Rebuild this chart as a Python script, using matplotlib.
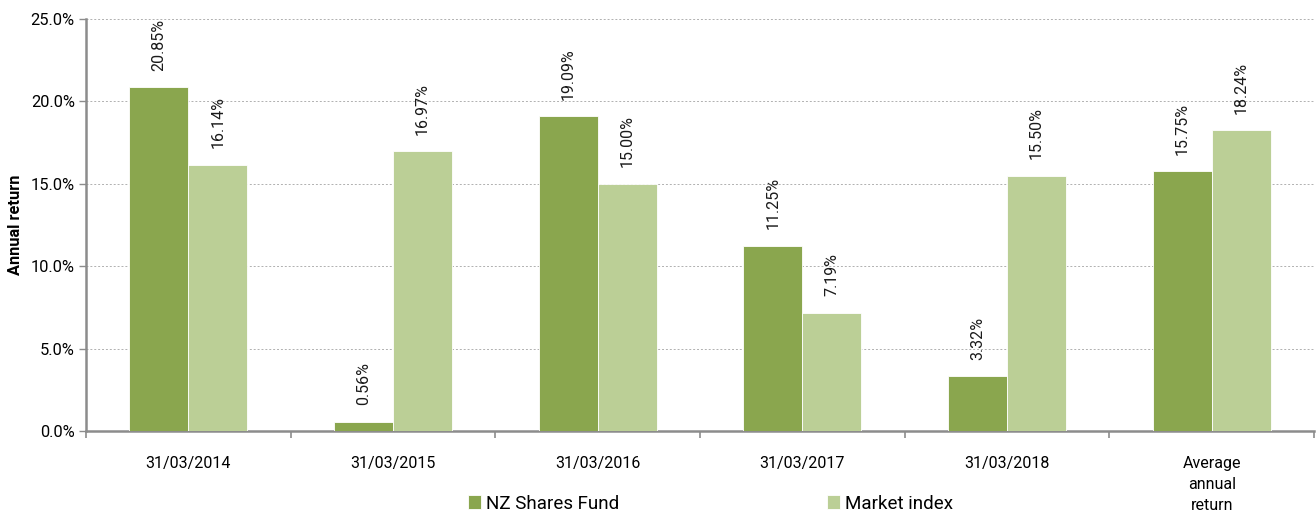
import matplotlib.pyplot as plt
import numpy as np
from matplotlib.ticker import FuncFormatter, FixedLocator

plt.rcParams['font.family'] = ['Roboto', 'DejaVu Sans']

# Data
categories = ['31/03/2014', '31/03/2015', '31/03/2016', '31/03/2017', '31/03/2018',
              'Average\nannual\nreturn']
fund = [20.85, 0.56, 19.09, 11.25, 3.32, 15.75]
market = [16.14, 16.97, 15.00, 7.19, 15.50, 18.24]

dark_green = '#8aa64e'
light_green = '#bbcf96'
axis_grey = '#8c8c8c'

fig = plt.figure(figsize=(13.16, 5.14), dpi=100)
ax = fig.add_axes([0.0653, 0.1615, 0.9332, 0.8015])

x = np.arange(len(categories))
w = 0.288
b1 = ax.bar(x - w / 2, fund, w, color=dark_green, edgecolor='white', linewidth=0.6,
            label='NZ Shares Fund', zorder=3)
b2 = ax.bar(x + w / 2, market, w, color=light_green, edgecolor='white', linewidth=0.6,
            label='Market index', zorder=3)

# value labels above bars, rotated
for bars, vals in ((b1, fund), (b2, market)):
    for rect, v in zip(bars, vals):
        ax.annotate(f'{v:.2f}%', (rect.get_x() + rect.get_width() / 2, rect.get_height()),
                    xytext=(0, 12), textcoords='offset points', rotation=90,
                    ha='center', va='bottom', fontsize=11.5, color='#1a1a1a')

ax.set_xlim(-0.5, len(categories) - 0.5)
ax.set_ylim(0, 25)
ax.set_yticks(np.arange(0, 26, 5))
ax.yaxis.set_major_formatter(FuncFormatter(lambda v, p: f'{v:.1f}%'))
ax.grid(axis='y', color='#b0b0b0', linestyle=(0, (2, 2)), linewidth=0.7, zorder=0)

# category labels in the middle, ticks at the boundaries
ax.set_xticks(x)
ax.set_xticklabels(categories, fontsize=11.5, linespacing=1.5, va='top')
ax.tick_params(axis='x', which='major', length=0, pad=18)
ax.xaxis.set_minor_locator(FixedLocator(np.arange(-0.5, len(categories), 1)))
ax.tick_params(axis='x', which='minor', length=5, width=1.2, color=axis_grey)
ax.tick_params(axis='y', length=5, width=1, color=axis_grey, labelsize=11.8, pad=3)

for s in ('top', 'right'):
    ax.spines[s].set_visible(False)
for s in ('left', 'bottom'):
    ax.spines[s].set_color(axis_grey)
    ax.spines[s].set_linewidth(1.8)

ax.set_ylabel('Annual return', fontsize=11.8, fontweight='bold')
ax.yaxis.set_label_coords(-0.051, 0.5)

fig.legend(handles=[b1, b2], loc='lower center', bbox_to_anchor=(0.540, -0.03), ncol=2,
           frameon=False, fontsize=13.5, handlelength=0.7, handleheight=0.7,
           handletextpad=0.25, columnspacing=11.1)

fig.savefig('out.png', dpi=100)
